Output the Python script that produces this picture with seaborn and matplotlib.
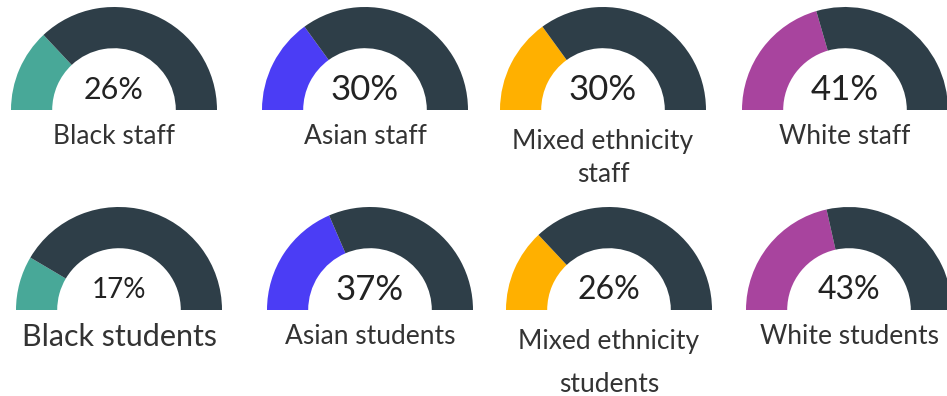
import matplotlib
matplotlib.use('Agg')
import matplotlib.pyplot as plt
import seaborn as sns

sns.set_theme(style='white')
plt.rcParams['font.family'] = ['Lato', 'DejaVu Sans']

# data
staff_labels = ['Black staff', 'Asian staff', 'Mixed ethnicity\nstaff', 'White staff']
staff_values = [26, 30, 30, 41]
student_labels = ['Black students', 'Asian students', 'Mixed ethnicity\nstudents', 'White students']
student_values = [17, 37, 26, 43]
group_colors = ['#48a898', '#4b3df5', '#ffb000', '#a8449e']
rest_color = '#2e3e48'

W, H = 947, 396
fig = plt.figure(figsize=(W / 100, H / 100), dpi=100)

R = 103
rows = [
    # values, labels, centre xs, centre y, pct size, label sizes, line gap
    (staff_values, staff_labels, [114, 365, 603, 845], 110, [22, 25, 25, 25], [19, 19, 19, 19], 34),
    (student_values, student_labels, [119, 370, 609, 849], 310, [20, 25, 23, 23], [22, 19, 19, 19], 44),
]

for values, labels, xs, cy, pct_sizes, lab_sizes, gap in rows:
    for i, (v, lab, cx) in enumerate(zip(values, labels, xs)):
        ax = fig.add_axes([(cx - R) / W, (H - cy - R) / H, 2 * R / W, 2 * R / H])
        ax.pie([v, 100 - v, 100], colors=[group_colors[i], rest_color, 'none'],
               startangle=180, counterclock=False, radius=1,
               wedgeprops=dict(width=0.4, edgecolor='none'))
        ax.set_xlim(-1, 1)
        ax.set_ylim(-1, 1)
        ax.axis('off')

        fig.text(cx / W, 1 - (cy - 20) / H, f'{v}%', ha='center', va='center',
                 fontsize=pct_sizes[i], color='#222222')
        lines = lab.split('\n')
        y0 = cy + 27 if len(lines) == 1 else cy + 31
        for k, line in enumerate(lines):
            fig.text(cx / W, 1 - (y0 + k * gap) / H, line, ha='center', va='center',
                     fontsize=lab_sizes[i], color='#333333')

fig.savefig('out.png', dpi=100, facecolor='white')
